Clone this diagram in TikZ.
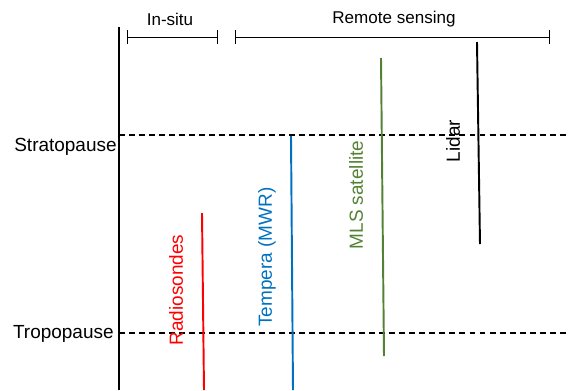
\documentclass[tikz,border=0pt]{standalone}
\usepackage{fontspec}
\setmainfont{Liberation Sans}
\usepackage{tikz}
\usetikzlibrary{arrows.meta}

\definecolor{mwrblue}{RGB}{0,112,192}
\definecolor{mlsgreen}{RGB}{84,130,53}

\begin{document}
\begin{tikzpicture}[x=0.02cm,y=-0.02cm,line cap=butt,
    axisline/.style={line width=1.1pt},
    pauseline/.style={dashed,dash pattern=on 3.4pt off 2.3pt,line width=.75pt},
    bracket/.style={line width=.5pt,{Bar[width=8pt]}-{Bar[width=8pt]}},
    instr/.style={line width=1.1pt},
    sidelabel/.style={font=\fontsize{10.8}{12}\selectfont,inner sep=0pt},
    toplabel/.style={font=\fontsize{9.7}{11}\selectfont,inner sep=0pt},
    vlabel/.style={font=\fontsize{10.8}{12}\selectfont,rotate=90,inner sep=0pt}]
    \useasboundingbox (0,0) rectangle (569,390);

    % Altitude axis and the two pause levels.
    \coordinate (axisTop) at (119,27);
    \coordinate (axisBot) at (119,390);
    \draw[axisline] (axisTop) -- (axisBot);
    \coordinate (stratoL) at (119,135);
    \coordinate (stratoR) at (569,135);
    \coordinate (tropoL) at (119,333);
    \coordinate (tropoR) at (569,333);
    \draw[pauseline] (stratoL) -- (stratoR);
    \draw[pauseline] (tropoL) -- (tropoR);
    \node[sidelabel,anchor=east] (strato) at (117,147) {Stratopause};
    \node[sidelabel,anchor=east] (tropo) at (114,334) {Tropopause};

    % Groups of instruments.
    \coordinate (insituL) at (127,37);
    \coordinate (insituR) at (218,37);
    \coordinate (remoteL) at (235,37);
    \coordinate (remoteR) at (550,37);
    \draw[bracket] (insituL) -- (insituR);
    \draw[bracket] (remoteL) -- (remoteR);
    \node[toplabel] (insitu) at (170,19) {In-situ};
    \node[toplabel] (remote) at (394,19) {Remote sensing};

    % Altitude ranges of the instruments.
    \coordinate (radioTop) at (202,213);
    \coordinate (radioBot) at (204,390);
    \draw[instr,red] (radioTop) -- (radioBot);
    \node[vlabel,red] (radio) at (176,290) {Radiosondes};

    \coordinate (mwrTop) at (291,136);
    \coordinate (mwrBot) at (293,390);
    \draw[instr,mwrblue] (mwrTop) -- (mwrBot);
    \node[vlabel,mwrblue] (mwr) at (267,257) {Tempera (MWR)};

    \coordinate (mlsTop) at (381,58);
    \coordinate (mlsBot) at (384,356);
    \draw[instr,mlsgreen] (mlsTop) -- (mlsBot);
    \node[vlabel,mlsgreen] (mls) at (356,195) {MLS satellite};

    \coordinate (lidarTop) at (477,42);
    \coordinate (lidarBot) at (480,244);
    \draw[instr] (lidarTop) -- (lidarBot);
    \node[vlabel] (lidar) at (453,141) {Lidar};
  \end{tikzpicture}
\end{document}
